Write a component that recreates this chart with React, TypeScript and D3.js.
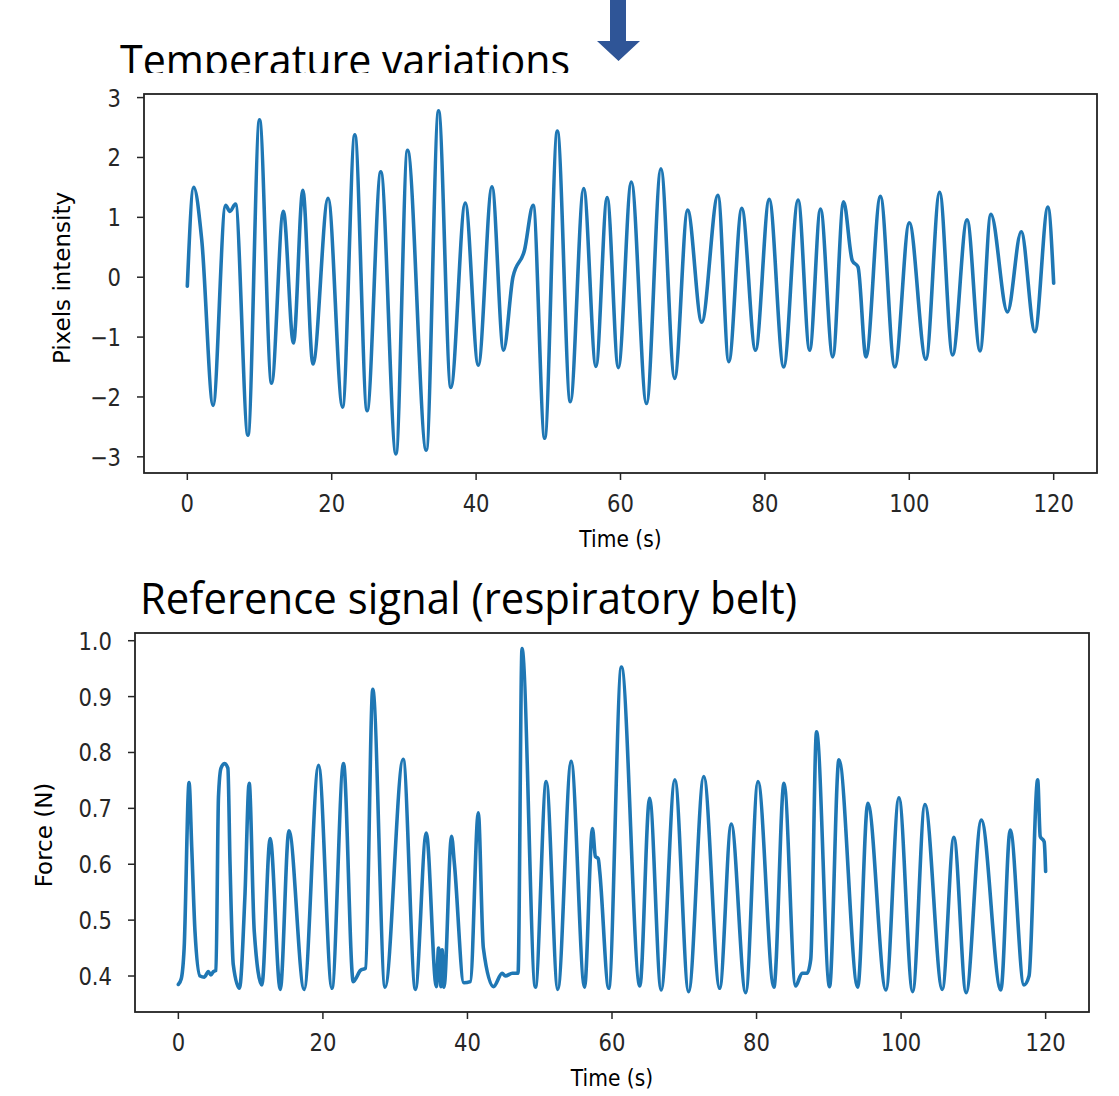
import React from "react";
import * as d3 from "d3";

// Top panel: pixel intensity (temperature variations)
const tempTime = [0, 0.88, 2.0, 3.57, 5.3, 5.9, 6.67, 8.4, 10.0, 11.67, 13.3, 14.7, 16.0, 17.4, 19.5, 21.5, 23.2, 24.9, 26.8, 28.9, 30.5, 33.1, 34.8, 36.5, 38.5, 40.3, 42.2, 43.8, 45.1, 46.7, 47.9, 49.5, 51.25, 53.05, 54.9, 56.6, 58.15, 59.7, 61.5, 63.6, 65.6, 67.5, 69.3, 71.25, 73.5, 75.0, 76.8, 78.7, 80.6, 82.6, 84.6, 86.2, 87.7, 89.4, 90.9, 92.1, 92.9, 94.0, 96.0, 98.0, 100.0, 102.3, 104.2, 106.0, 108.0, 109.8, 111.3, 113.6, 115.5, 117.4, 119.2, 120.0];
const tempValue = [-0.15, 1.5, 0.62, -2.14, 1.2, 1.1, 1.22, -2.64, 2.63, -1.77, 1.1, -1.1, 1.45, -1.45, 1.32, -2.17, 2.38, -2.23, 1.76, -2.95, 2.12, -2.89, 2.78, -1.84, 1.24, -1.47, 1.51, -1.22, 0.0, 0.45, 1.2, -2.69, 2.44, -2.08, 1.48, -1.49, 1.33, -1.51, 1.59, -2.11, 1.81, -1.69, 1.12, -0.75, 1.37, -1.41, 1.15, -1.22, 1.3, -1.5, 1.29, -1.22, 1.14, -1.33, 1.26, 0.28, 0.17, -1.33, 1.35, -1.5, 0.91, -1.37, 1.42, -1.3, 0.96, -1.23, 1.05, -0.58, 0.76, -0.91, 1.17, -0.1];

// Bottom panel: respiratory belt force
const beltTime = [0, 0.4, 0.8, 1.48, 1.85, 2.3, 3.0, 3.6, 4.15, 4.5, 4.85, 5.2, 5.55, 5.9, 6.4, 6.85, 7.15, 7.6, 8.45, 9.2, 9.8, 10.5, 11.55, 12.7, 14.1, 15.3, 17.4, 19.4, 21.25, 22.85, 24.2, 25.2, 25.9, 26.9, 28.6, 31.1, 32.8, 34.3, 35.7, 36.0, 36.35, 36.5, 36.75, 37.8, 38.2, 39.5, 40.4, 41.5, 42.2, 43.6, 44.8, 45.25, 46.2, 47.0, 47.55, 49.4, 50.9, 52.5, 54.35, 56.2, 57.3, 57.7, 58.1, 58.3, 59.55, 61.3, 63.85, 65.2, 66.8, 68.7, 70.6, 72.7, 74.9, 76.5, 78.5, 80.2, 82.4, 83.8, 85.4, 86.3, 87.0, 87.5, 88.3, 90.1, 91.4, 94.0, 95.4, 97.9, 99.7, 101.6, 103.3, 105.7, 107.3, 109.0, 111.1, 113.8, 115.1, 117.0, 117.7, 118.9, 119.25, 119.8, 120.0];
const beltValue = [0.385, 0.395, 0.45, 0.746, 0.63, 0.48, 0.4, 0.398, 0.408, 0.402, 0.408, 0.41, 0.72, 0.772, 0.78, 0.772, 0.6, 0.42, 0.378, 0.54, 0.745, 0.48, 0.384, 0.646, 0.376, 0.66, 0.376, 0.777, 0.378, 0.78, 0.39, 0.41, 0.414, 0.913, 0.38, 0.788, 0.376, 0.656, 0.381, 0.45, 0.381, 0.447, 0.38, 0.65, 0.6, 0.388, 0.39, 0.692, 0.45, 0.381, 0.405, 0.4, 0.405, 0.405, 0.986, 0.38, 0.748, 0.376, 0.784, 0.38, 0.664, 0.614, 0.61, 0.587, 0.378, 0.953, 0.382, 0.718, 0.375, 0.751, 0.372, 0.757, 0.378, 0.672, 0.37, 0.748, 0.38, 0.745, 0.382, 0.405, 0.405, 0.43, 0.837, 0.381, 0.787, 0.38, 0.709, 0.375, 0.719, 0.372, 0.707, 0.376, 0.648, 0.37, 0.679, 0.375, 0.661, 0.384, 0.4, 0.751, 0.65, 0.64, 0.587];

const timeTicks = [0, 20, 40, 60, 80, 100, 120];
const tempTicks = [-3, -2, -1, 0, 1, 2, 3];
const beltTicks = [0.4, 0.5, 0.6, 0.7, 0.8, 0.9, 1.0];

const lineColor = "#1f77b4";
const inkColor = "#262626";
const tickFont = "'DejaVu Sans', sans-serif";
const titleFont = "'Open Sans', 'Noto Sans', sans-serif";

type PanelProps = {
  id: string;
  left: number;
  right: number;
  top: number;
  bottom: number;
  xDomain: [number, number];
  yDomain: [number, number];
  yTicks: number[];
  yFormat: (v: number) => string;
  times: number[];
  values: number[];
  yLabel: string;
  yLabelX: number;
  yLabelY: number;
};

function Panel(p: PanelProps) {
  const x = d3.scaleLinear().domain(p.xDomain).range([p.left, p.right]);
  const y = d3.scaleLinear().domain(p.yDomain).range([p.bottom, p.top]);
  const pts = p.times.map((t, i) => [t, p.values[i]] as [number, number]);
  const line = d3
    .line<[number, number]>()
    .x((d) => x(d[0]))
    .y((d) => y(d[1]))
    .curve(d3.curveMonotoneX);
  const tickLen = 7;
  const midX = (p.left + p.right) / 2;

  return (
    <g>
      <defs>
        <clipPath id={`clip-${p.id}`}>
          <rect x={p.left} y={p.top} width={p.right - p.left} height={p.bottom - p.top} />
        </clipPath>
      </defs>
      <path
        d={line(pts) || ""}
        fill="none"
        stroke={lineColor}
        strokeWidth={3.6}
        strokeLinejoin="round"
        strokeLinecap="round"
        clipPath={`url(#clip-${p.id})`}
      />
      <rect
        x={p.left}
        y={p.top}
        width={p.right - p.left}
        height={p.bottom - p.top}
        fill="none"
        stroke="#222"
        strokeWidth={1.8}
      />
      {timeTicks.map((t) => (
        <g key={`x${t}`}>
          <line x1={x(t)} x2={x(t)} y1={p.bottom} y2={p.bottom + tickLen} stroke={inkColor} strokeWidth={1.5} />
          <text
            transform={`translate(${x(t)},${p.bottom + 39}) scale(0.88,1)`}
            textAnchor="middle"
            fontFamily={tickFont}
            fontSize={24}
            fill={inkColor}
          >
            {t}
          </text>
        </g>
      ))}
      {p.yTicks.map((v) => (
        <g key={`y${v}`}>
          <line x1={p.left - tickLen} x2={p.left} y1={y(v)} y2={y(v)} stroke={inkColor} strokeWidth={1.5} />
          <text
            transform={`translate(${p.left - 23},${y(v) + 9}) scale(0.88,1)`}
            textAnchor="end"
            fontFamily={tickFont}
            fontSize={24}
            fill={inkColor}
          >
            {p.yFormat(v)}
          </text>
        </g>
      ))}
      <text
        transform={`translate(${midX},${p.bottom + 74}) scale(0.88,1)`}
        textAnchor="middle"
        fontFamily={tickFont}
        fontSize={23}
        fill="#000"
      >
        Time (s)
      </text>
      <text
        transform={`translate(${p.yLabelX},${p.yLabelY}) rotate(-90)`}
        textAnchor="middle"
        fontFamily={tickFont}
        fontSize={23}
        fill="#000"
      >
        {p.yLabel}
      </text>
    </g>
  );
}

export default function App() {
  const width = 1119;
  const height = 1096;
  const minus = (v: number) => (v < 0 ? `\u2212${Math.abs(v)}` : `${v}`);

  return (
    <div style={{ position: "absolute", left: 0, top: 0 }}>
      <svg width={width} height={height} style={{ display: "block", background: "#fff" }}>
        <defs>
          <clipPath id="title-clip">
            <rect x={0} y={0} width={width} height={73} />
          </clipPath>
        </defs>
        <rect width={width} height={height} fill="#fff" />

        {/* downward arrow pasted on the slide */}
        <path d="M610,0 L626,0 L626,41 L640,41 L618.5,61 L597,41 L610,41 Z" fill="#2F5597" />

        <text
          x={120}
          y={76}
          fontFamily={titleFont}
          fontSize={43}
          textLength={450}
          lengthAdjust="spacingAndGlyphs"
          fill="#000"
          clipPath="url(#title-clip)"
        >
          Temperature variations
        </text>
        <text
          x={140}
          y={614}
          fontFamily={titleFont}
          fontSize={43}
          textLength={657}
          lengthAdjust="spacingAndGlyphs"
          fill="#000"
        >
          Reference signal (respiratory belt)
        </text>

        <Panel
          id="temp"
          left={144}
          right={1097}
          top={94}
          bottom={473}
          xDomain={[-6, 126]}
          yDomain={[-3.27, 3.06]}
          yTicks={tempTicks}
          yFormat={minus}
          times={tempTime}
          values={tempValue}
          yLabel="Pixels intensity"
          yLabelX={70}
          yLabelY={278}
        />
        <Panel
          id="belt"
          left={135}
          right={1089}
          top={633}
          bottom={1012}
          xDomain={[-6, 126]}
          yDomain={[0.3356, 1.0138]}
          yTicks={beltTicks}
          yFormat={d3.format(".1f")}
          times={beltTime}
          values={beltValue}
          yLabel="Force (N)"
          yLabelX={52}
          yLabelY={835}
        />
      </svg>
    </div>
  );
}
